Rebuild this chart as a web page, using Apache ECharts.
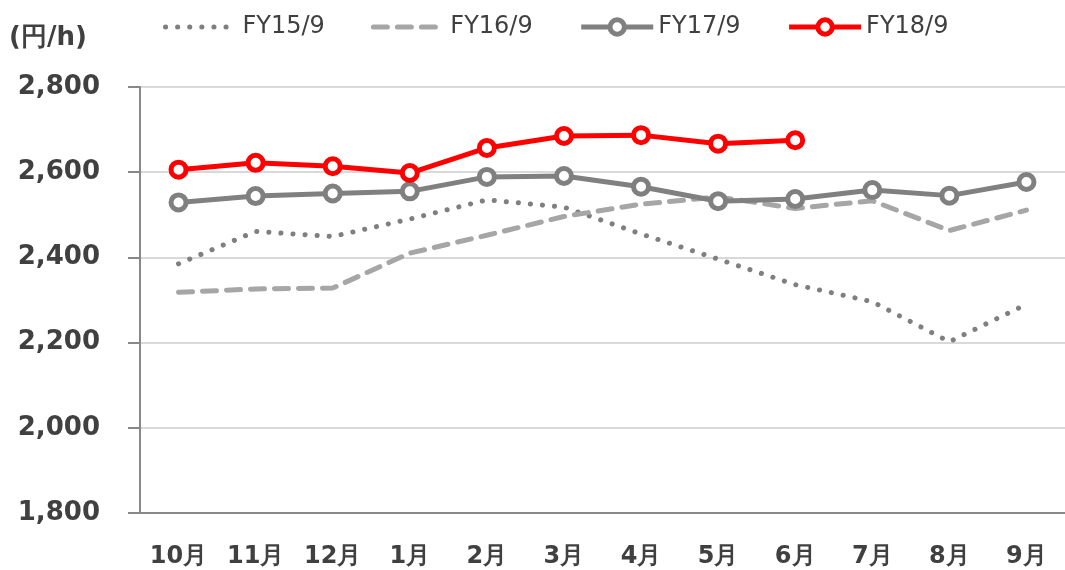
<!DOCTYPE html>
<html>
<head>
<meta charset="utf-8" />
<title>chart</title>
<script src="https://cdn.jsdelivr.net/npm/echarts@6/dist/echarts.min.js"></script>
<style type="text/css">
  html, body { margin: 0; padding: 0; background: #fff; }
  #main { width: 1065px; height: 570px; }
</style>
</head>
<body>
<div id="main"></div>
<script>
var months = ['10月', '11月', '12月', '1月', '2月', '3月', '4月', '5月', '6月', '7月', '8月', '9月'];
var fy15 = [2385, 2461, 2449, 2490, 2535, 2518, 2455, 2396, 2336, 2296, 2202, 2290];
var fy16 = [2318, 2326, 2328, 2410, 2452, 2496, 2525, 2542, 2515, 2533, 2463, 2511];
var fy17 = [2529, 2544, 2550, 2555, 2589, 2591, 2566, 2532, 2537, 2558, 2545, 2577];
var fy18 = [2606, 2622, 2614, 2598, 2657, 2685, 2687, 2667, 2675];
var yTicks = [1800, 2800, 200]; // min, max, step

var font = 'DejaVu Sans, Verdana, sans-serif';
var dotted = { color: '#7f7f7f', width: 5, type: [0.1, 12], cap: 'round' };
var dashed = { color: '#a6a6a6', width: 5, type: [14, 10], cap: 'round' };
var gray = { color: '#808080', width: 5 };
var red = { color: '#ff0000', width: 5 };

var chart = echarts.init(document.getElementById('main'));

chart.setOption({
  backgroundColor: '#fff',
  animation: false,
  textStyle: { fontFamily: font },
  title: {
    text: '(円/h)',
    left: 4,
    top: 20,
    textStyle: { fontSize: 26, fontWeight: 'bold', color: '#404040', fontFamily: font }
  },
  legend: {
    top: 10,
    left: 158,
    itemGap: 46,
    itemWidth: 72,
    itemHeight: 18,
    textStyle: { fontSize: 24, color: '#404040', fontFamily: font },
    data: [
      { name: 'FY15/9', lineStyle: dotted, itemStyle: { opacity: 0 } },
      { name: 'FY16/9', lineStyle: dashed, itemStyle: { opacity: 0 } },
      { name: 'FY17/9', lineStyle: gray, itemStyle: { color: '#fff', borderColor: '#808080', borderWidth: 5 } },
      { name: 'FY18/9', lineStyle: red, itemStyle: { color: '#fff', borderColor: '#ff0000', borderWidth: 5 } }
    ]
  },
  grid: { left: 140, top: 87, width: 929, height: 426 },
  xAxis: {
    type: 'category',
    data: months,
    boundaryGap: true,
    axisLine: { lineStyle: { color: '#888', width: 2 } },
    axisTick: { inside: true, length: 8, lineStyle: { color: '#888', width: 2 } },
    axisLabel: { fontSize: 24, fontWeight: 'bold', color: '#404040', margin: 32, fontFamily: font }
  },
  yAxis: {
    type: 'value',
    min: yTicks[0],
    max: yTicks[1],
    interval: yTicks[2],
    axisLine: { show: true, lineStyle: { color: '#888', width: 2 } },
    axisTick: { show: true, length: 12, lineStyle: { color: '#888', width: 2 } },
    splitLine: { lineStyle: { color: '#d9d9d9', width: 2 } },
    axisLabel: {
      fontSize: 26, fontWeight: 'bold', color: '#404040', margin: 40, fontFamily: font,
      formatter: function (v) { return v.toLocaleString('en-US'); }
    }
  },
  series: [
    { name: 'FY15/9', type: 'line', data: fy15, symbol: 'none', lineStyle: dotted, itemStyle: { color: '#7f7f7f' } },
    { name: 'FY16/9', type: 'line', data: fy16, symbol: 'none', lineStyle: dashed, itemStyle: { color: '#a6a6a6' } },
    {
      name: 'FY17/9', type: 'line', data: fy17, symbol: 'circle', symbolSize: 15, lineStyle: gray,
      itemStyle: { color: '#fff', borderColor: '#808080', borderWidth: 5 }
    },
    {
      name: 'FY18/9', type: 'line', data: fy18, symbol: 'circle', symbolSize: 15, lineStyle: red,
      itemStyle: { color: '#fff', borderColor: '#ff0000', borderWidth: 5 }
    }
  ]
});
</script>
</body>
</html>
